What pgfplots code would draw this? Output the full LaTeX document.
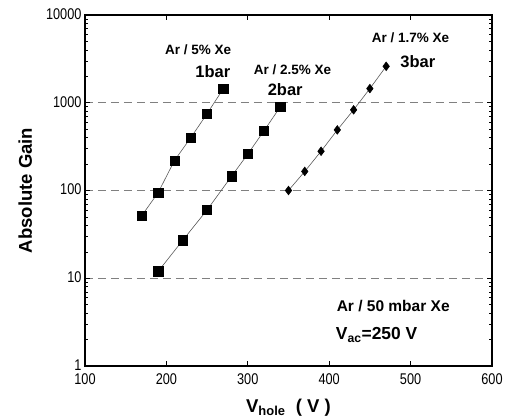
\documentclass[border=0pt]{standalone}
\usepackage{pgfplots}
\pgfplotsset{compat=1.18}
\usepackage{fontspec}
\setmainfont{Liberation Sans}
\newfontfamily\tickfont{Liberation Sans}[FakeStretch=0.82]
\begin{document}
\begin{tikzpicture}
\begin{axis}[
  scale only axis, width=407pt, height=351pt,
  ymode=log, xmin=100, xmax=600, ymin=1, ymax=10000,
  xtick={100,200,300,400,500,600},
  ytick={1,10,100,1000,10000},
  yticklabels={1,10,100,1000,10000},
  /pgf/number format/assume math mode=true,
  /pgf/number format/1000 sep={},
  tick label style={font=\tickfont\fontsize{15.5}{17}\selectfont},
  xticklabel style={yshift=-4pt},
  yticklabel style={yshift=1pt},
  axis line style={line width=1.6pt},
  tick style={black, line width=0.6pt},
  major tick length=5pt, minor tick length=3pt,
  tick align=inside,
  ymajorgrids, major y grid style={gray, dashed, dash pattern=on 8pt off 5pt, line width=0.7pt},
  xlabel={\textbf{V\textsubscript{hole}\ \ ( V )}},
  ylabel={\textbf{Absolute Gain}},
  label style={font=\fontsize{18.5}{20}\selectfont},
  xlabel style={at={(axis description cs:0.5,-0.118)}, anchor=center},
  ylabel style={at={(axis description cs:-0.147,0.5)}, anchor=center},
  clip=false,
]
\addplot[gray!70!black, line width=0.6pt, mark=square*, mark size=4.6pt, mark options={black, solid}]
  coordinates {(170,52) (190,95) (210,220) (230,400) (250,750) (270,1450)};
\addplot[gray!70!black, line width=0.6pt, mark=square*, mark size=4.6pt, mark options={black, solid}]
  coordinates {(190,12) (220,27) (250,60) (280,145) (300,260) (320,480) (340,900)};
\addplot[gray!70!black, line width=0.6pt, mark=diamond*, mark size=4.3pt, mark options={black, solid}]
  coordinates {(350,100) (370,165) (390,280) (410,490) (430,830) (450,1450) (470,2600)};
\node[font=\bfseries\fontsize{13.5}{15}\selectfont] at (axis cs:239,3990) {Ar / 5\% Xe};
\node[font=\bfseries\fontsize{16.5}{18}\selectfont] at (axis cs:257,2240) {1bar};
\node[font=\bfseries\fontsize{13.5}{15}\selectfont] at (axis cs:355,2360) {Ar / 2.5\% Xe};
\node[font=\bfseries\fontsize{16.5}{18}\selectfont] at (axis cs:346,1397) {2bar};
\node[font=\bfseries\fontsize{13.5}{15}\selectfont] at (axis cs:500,5470) {Ar / 1.7\% Xe};
\node[font=\bfseries\fontsize{16.5}{18}\selectfont] at (axis cs:509,2912) {3bar};
\node[anchor=west, font=\bfseries\fontsize{15.5}{17}\selectfont] at (axis cs:405,4.83) {Ar / 50 mbar Xe};
\node[anchor=west, font=\bfseries\fontsize{17.4}{19}\selectfont] at (axis cs:404,2.26) {V\textsubscript{ac}=250 V};
\path (axis description cs:-0.2088,-0.148) -- (axis description cs:1.0369,1.0427);
\end{axis}
\end{tikzpicture}
\end{document}
